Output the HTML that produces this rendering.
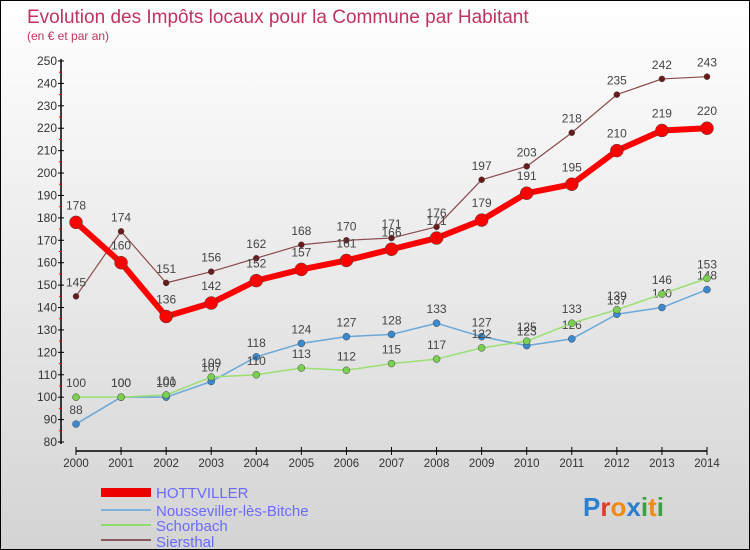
<!DOCTYPE html>
<html><head><meta charset="utf-8"><style>
body{margin:0}
#c{width:750px;height:550px;position:relative;box-sizing:border-box;border:1px solid #000;background:linear-gradient(#fff,#d4d4d4);font-family:"Liberation Sans",sans-serif;overflow:hidden}
svg text{font-family:"Liberation Sans",sans-serif}
</style></head><body>
<div id="c">
<svg id="s" width="750" height="550">
<text x="26" y="22" font-size="19" fill="#c0335e">Evolution des Impôts locaux pour la Commune par Habitant</text>
<text x="26" y="39" font-size="12" fill="#c0335e">(en € et par an)</text>
<g id="ax"></g><g id="ser"></g>
<g>
<rect x="100" y="487" width="50" height="9" fill="#e00"/>
<text x="155" y="497" font-size="15" fill="#6a6aff">HOTTVILLER</text>
<rect x="100" y="508" width="50" height="2" fill="#7fb0d8"/>
<text x="155" y="515" font-size="15" fill="#6a6aff">Nousseviller-lès-Bitche</text>
<rect x="100" y="523" width="50" height="2" fill="#8fdc6a"/>
<text x="155" y="530" font-size="15" fill="#6a6aff">Schorbach</text>
<rect x="100" y="538" width="50" height="2" fill="#8a5a5a"/>
<text x="155" y="546" font-size="15" fill="#6a6aff">Siersthal</text>
</g>
<text x="582" y="515" font-size="26" font-weight="bold"><tspan fill="#2a7fd0">P</tspan><tspan fill="#e03a2a">r</tspan><tspan fill="#f08a10">o</tspan><tspan fill="#2a7fd0">x</tspan><tspan fill="#3aa040">i</tspan><tspan fill="#f08a10">t</tspan><tspan fill="#3aa040">i</tspan></text>
</svg></div>
<script>
const years=[2000,2001,2002,2003,2004,2005,2006,2007,2008,2009,2010,2011,2012,2013,2014];
const hott=[178,160,136,142,152,157,161,166,171,179,191,195,210,219,220];
const nous=[88,100,100,107,118,124,127,128,133,127,123,126,137,140,148];
const scho=[100,100,101,109,110,113,112,115,117,122,125,133,139,146,153];
const sier=[145,174,151,156,162,168,170,171,176,197,203,218,235,242,243];
const yTicks=[80,90,100,110,120,130,140,150,160,170,180,190,200,210,220,230,240,250];
const NS="http://www.w3.org/2000/svg";
const X=i=>75+i*(631/14);
const Y=v=>441-(v-80)*(381/170);
function mk(t,a,p){const e=document.createElementNS(NS,t);for(const k in a)e.setAttribute(k,a[k]);p.appendChild(e);return e;}
const ax=document.getElementById('ax');
let l=mk('line',{x1:60,y1:58,x2:60,y2:443,stroke:'#000','stroke-width':1.5},ax);


l=mk('line',{x1:75,y1:450,x2:706,y2:450,stroke:'#000','stroke-width':1.5},ax);


yTicks.forEach(v=>{const y=Y(v);
mk('line',{x1:57,y1:y,x2:63,y2:y,stroke:'#000'},ax);
if(v<250)mk('line',{x1:58,y1:y-(381/34),x2:61,y2:y-(381/34),stroke:'#e00'},ax);
const t=mk('text',{x:56,y:y+4,'font-size':12,fill:'#333','text-anchor':'end'},ax);t.textContent=v;

});
years.forEach((yr,i)=>{const x=X(i);
mk('line',{x1:x,y1:446,x2:x,y2:454,stroke:'#000'},ax);
const t=mk('text',{x:x,y:466,'font-size':11.5,fill:'#333','text-anchor':'middle'},ax);t.textContent=yr;

});
const ser=document.getElementById('ser');
function draw(arr,name,col,pcol,w,r,dy){
const g=mk('g',{},ser);


const p=mk('polyline',{points:arr.map((v,i)=>X(i)+','+Y(v)).join(' '),fill:'none',stroke:col,'stroke-width':w,'stroke-linejoin':'round'},g);


arr.forEach((v,i)=>{const c=mk('circle',{cx:X(i),cy:Y(v),r:r,fill:pcol,stroke:'#444','stroke-width':0.5},g);


const t=mk('text',{x:X(i),y:Y(v)+dy,'font-size':12,fill:'#444','text-anchor':'middle'},g);t.textContent=v;

});}
draw(nous,'nousseviller','#6aa8d8','#3a8ad0',1.5,3.5,-10);
draw(scho,'schorbach','#9ae070','#7ad050',1.5,3.5,-10);
draw(sier,'siersthal','#8a4a4a','#6a1a1a',1.2,3,-10);
draw(hott,'hottviller','#f00','#f00',6,6.5,-13);
</script>
</body></html>
